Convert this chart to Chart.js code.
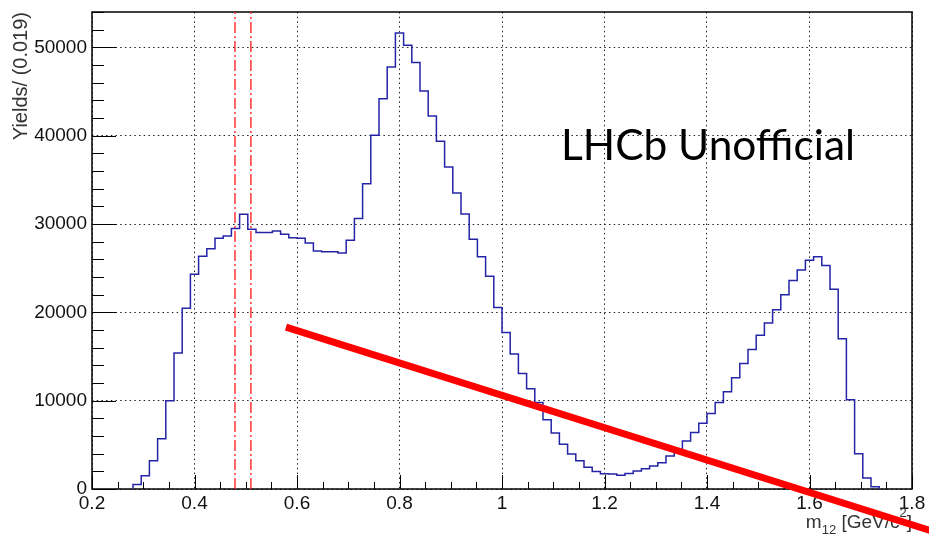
<!DOCTYPE html>
<html>
<head>
<meta charset="utf-8">
<script src="https://cdn.jsdelivr.net/npm/chart.js@4"></script>
<style>
  body { margin: 0; background: #fff; }
  canvas { display: block; }
</style>
</head>
<body>
<canvas id="myChart" width="929" height="543"></canvas>
<script>
// histogram: bins of 0.016 starting at 0.28 (first non-empty bin)
const firstEdge = 0.28;
const binWidth = 0.016;
const yields = [
  500, 1500, 3200, 5700, 10000, 15400, 20450, 24300, 26350, 27200,
  28400, 28650, 29500, 31100, 29400, 29050, 29050, 29200, 28850, 28430,
  28400, 27860, 26950, 26850, 26850, 26730, 28160, 30610, 34570, 40040,
  44190, 47770, 51610, 50250, 48290, 45050, 42220, 39360, 36460, 33520,
  31140, 28280, 26280, 24090, 20550, 17720, 15270, 13080, 11350, 9800,
  7850, 6350, 5070, 3950, 3200, 2470, 1980, 1730, 1700, 1550,
  1760, 2050, 2300, 2600, 2980, 3730, 4410, 5430, 6410, 7430,
  8560, 9800, 11000, 12600, 14200, 15800, 17400, 18800, 20300, 22000,
  23600, 24800, 25900, 26300, 25300, 22600, 17000, 10100, 4000, 1250,
  260
];

// vertical marker lines and the hand drawn red stroke
const markerLines = [0.479, 0.510];
const strokeX = [0.5785, 1.85];
const strokeY = [18320, -4970];

// axes
const xMin = 0.2, xMax = 1.8, xMinorStep = 0.05;
const yMin = 0, yMax = 54000, yMinorStep = 2000;
const xTicks = [0.2, 0.4, 0.6, 0.8, 1, 1.2, 1.4, 1.6, 1.8];
const yTicks = [0, 10000, 20000, 30000, 40000, 50000];

const xTitle = ['m', '12', ' [GeV/c', '2', ']'];
const yTitle = 'Yields/ (0.019)';
const stamp = 'LHCb Unofficial';

// step outline points
const histPoints = [{ x: firstEdge, y: 0 }];
yields.forEach((v, i) => histPoints.push({ x: firstEdge + i * binWidth, y: v }));
histPoints.push({ x: firstEdge + yields.length * binWidth, y: 0 });

const markerSets = markerLines.map(m => ({
  data: [{ x: m, y: yMin }, { x: m, y: yMax }],
  borderColor: 'rgba(255, 30, 30, 0.9)',
  borderWidth: 1.5,
  borderDash: [11, 3, 2, 3],
  pointRadius: 0
}));

const labelFont = { family: 'Liberation Sans', size: 19 };

const rootFrame = {
  id: 'rootFrame',
  beforeDatasetsDraw(chart) {
    const { ctx, chartArea: { left, right, top, bottom }, scales: { x, y } } = chart;
    ctx.save();

    // inside ticks
    ctx.strokeStyle = '#000';
    ctx.lineWidth = 1;
    ctx.beginPath();
    for (let i = 0; i * yMinorStep <= yMax; i++) {
      const v = i * yMinorStep;
      const py = Math.round(y.getPixelForValue(v)) + 0.5;
      const len = yTicks.includes(v) ? 24 : 12;
      ctx.moveTo(left, py);
      ctx.lineTo(left + len, py);
    }
    const nx = Math.round((xMax - xMin) / xMinorStep);
    for (let i = 0; i <= nx; i++) {
      const px = Math.round(x.getPixelForValue(xMin + i * xMinorStep)) + 0.5;
      const len = i % 4 === 0 ? 14 : 7;
      ctx.moveTo(px, bottom);
      ctx.lineTo(px, bottom - len);
    }
    ctx.stroke();

    // frame
    ctx.lineWidth = 1.5;
    ctx.strokeRect(left, top, right - left, bottom - top);

    // y title
    ctx.fillStyle = '#333';
    ctx.font = '20px "Liberation Sans"';
    ctx.save();
    ctx.translate(21, top);
    ctx.rotate(-Math.PI / 2);
    ctx.textAlign = 'right';
    ctx.textBaseline = 'middle';
    ctx.fillText(yTitle, 0, 0);
    ctx.restore();

    // x title, right aligned with sub/superscripts
    const big = '19px "Liberation Sans"', small = '13px "Liberation Sans"';
    const fonts = [big, small, big, small, big];
    const shifts = [0, 6, 0, -11, 0];
    let total = 0;
    const widths = xTitle.map((t, i) => { ctx.font = fonts[i]; const w = ctx.measureText(t).width; total += w; return w; });
    let cx = right - total;
    ctx.textAlign = 'left';
    ctx.textBaseline = 'alphabetic';
    xTitle.forEach((t, i) => {
      ctx.font = fonts[i];
      ctx.fillText(t, cx, 528 + shifts[i]);
      cx += widths[i];
    });

    // stamp
    ctx.font = '43px Lato';
    const sw = ctx.measureText(stamp).width;
    ctx.save();
    ctx.translate(561, 160);
    ctx.scale(294 / sw, 1);
    ctx.fillStyle = '#000';
    ctx.textAlign = 'left';
    ctx.fillText(stamp, 0, 0);
    ctx.restore();

    ctx.restore();
  }
};

const config = {
  type: 'line',
  data: {
    datasets: [
      {
        data: strokeX.map((v, i) => ({ x: v, y: strokeY[i] })),
        borderColor: '#ff0000',
        borderWidth: 7,
        borderCapStyle: 'butt',
        pointRadius: 0,
        clip: false
      },
      ...markerSets,
      {
        data: histPoints,
        stepped: 'before',
        borderColor: '#2424a6',
        borderWidth: 1.5,
        pointRadius: 0,
        fill: false
      }
    ]
  },
  options: {
    responsive: false,
    animation: false,
    layout: { padding: { top: 12, right: 17, left: 0, bottom: 0 } },
    plugins: {
      legend: { display: false },
      tooltip: { enabled: false }
    },
    scales: {
      x: {
        type: 'linear',
        min: xMin,
        max: xMax,
        afterFit: s => { s.height = 54; s.paddingLeft = 0; s.paddingRight = 0; },
        afterBuildTicks: s => { s.ticks = xTicks.map(v => ({ value: v })); },
        ticks: {
          maxRotation: 0,
          autoSkip: false,
          padding: 3,
          color: '#111',
          font: labelFont,
          callback: v => String(Math.round(v * 10) / 10)
        },
        grid: { color: '#222', lineWidth: 1, drawTicks: false },
        border: { display: false, dash: [1.5, 3.2] }
      },
      y: {
        type: 'linear',
        min: yMin,
        max: yMax,
        afterFit: s => { s.width = 92; s.paddingTop = 0; s.paddingBottom = 0; },
        afterBuildTicks: s => { s.ticks = yTicks.map(v => ({ value: v })); },
        ticks: {
          autoSkip: false,
          padding: 5,
          color: '#111',
          font: labelFont,
          callback: v => String(v)
        },
        grid: { color: '#222', lineWidth: 1, drawTicks: false },
        border: { display: false, dash: [1.5, 3.2] }
      }
    }
  },
  plugins: [rootFrame]
};

const myChart = new Chart(document.getElementById('myChart'), config);
</script>
</body>
</html>
